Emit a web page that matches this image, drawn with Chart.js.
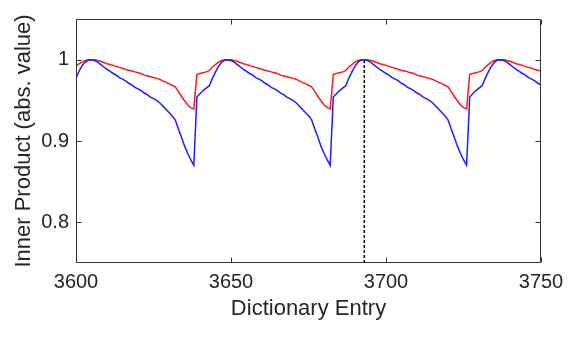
<!DOCTYPE html>
<html>
<head>
<meta charset="utf-8">
<script src="https://cdn.jsdelivr.net/npm/chart.js@4/dist/chart.umd.min.js"></script>
<style>
  html, body { margin: 0; padding: 0; background: #ffffff; }
  #wrap { width: 574px; height: 339px; position: relative; }
</style>
</head>
<body>
<div id="wrap"><canvas id="c" width="574" height="339"></canvas></div>
<script>
// Dictionary entries (x axis)
const entries = [
3600,3601,3602,3603,3604,3605,3606,3607,3608,3609,3610,3611,3612,3613,3614,3615,3616,3617,3618,3619,
3620,3621,3622,3623,3624,3625,3626,3627,3628,3629,3630,3631,3632,3633,3634,3635,3636,3637,3638,3639,
3640,3641,3642,3643,3644,3645,3646,3647,3648,3649,3650,3651,3652,3653,3654,3655,3656,3657,3658,3659,
3660,3661,3662,3663,3664,3665,3666,3667,3668,3669,3670,3671,3672,3673,3674,3675,3676,3677,3678,3679,
3680,3681,3682,3683,3684,3685,3686,3687,3688,3689,3690,3691,3692,3693,3694,3695,3696,3697,3698,3699,
3700,3701,3702,3703,3704,3705,3706,3707,3708,3709,3710,3711,3712,3713,3714,3715,3716,3717,3718,3719,
3720,3721,3722,3723,3724,3725,3726,3727,3728,3729,3730,3731,3732,3733,3734,3735,3736,3737,3738,3739,
3740,3741,3742,3743,3744,3745,3746,3747,3748,3749,3750
];

// Blue series (inner product, abs. value)
const blueValues = [
0.977,0.986,0.993,0.997,0.9995,
1.000,0.999,0.997,0.994,0.991,0.988,0.9855,0.983,0.981,0.978,0.976,0.974,0.971,0.969,0.966,0.964,0.962,0.959,0.957,0.954,0.952,0.950,0.947,0.943,0.939,0.935,0.931,0.926,0.915,0.905,0.894,0.885,0.877,0.870,0.954,0.958,0.962,0.965,0.968,0.977,0.985,0.992,0.997,0.9995,
1.000,0.999,0.997,0.994,0.991,0.988,0.9855,0.983,0.981,0.978,0.976,0.974,0.971,0.969,0.966,0.964,0.962,0.959,0.957,0.954,0.952,0.950,0.947,0.943,0.939,0.935,0.931,0.926,0.915,0.905,0.894,0.885,0.877,0.870,0.954,0.958,0.962,0.965,0.968,0.977,0.985,0.992,0.997,0.9995,
1.000,0.999,0.997,0.994,0.991,0.988,0.9855,0.983,0.981,0.978,0.976,0.974,0.971,0.969,0.966,0.964,0.962,0.959,0.957,0.954,0.952,0.950,0.947,0.943,0.939,0.935,0.931,0.926,0.915,0.905,0.894,0.885,0.877,0.870,0.954,0.958,0.962,0.965,0.968,0.977,0.985,0.992,0.997,0.9995,
1.000,0.999,0.997,0.994,0.991,0.988,0.9855,0.983,0.981,0.978,0.976,0.974,0.971,0.969
];

// Red series (inner product, abs. value)
const redValues = [
0.992,0.995,0.997,0.999,0.9998,
1.000,0.9998,0.999,0.998,0.9965,0.995,0.994,0.993,0.9915,0.9905,0.9895,0.988,0.987,0.986,0.985,0.984,0.983,0.981,0.980,0.979,0.978,0.977,0.976,0.974,0.972,0.9705,0.9685,0.9667,0.961,0.955,0.9495,0.9445,0.941,0.9395,0.982,0.983,0.984,0.985,0.9865,0.991,0.994,0.997,0.999,0.9998,
1.000,0.9998,0.999,0.998,0.9965,0.995,0.994,0.993,0.9915,0.9905,0.9895,0.988,0.987,0.986,0.985,0.984,0.983,0.981,0.980,0.979,0.978,0.977,0.976,0.974,0.972,0.9705,0.9685,0.9667,0.961,0.955,0.9495,0.9445,0.941,0.9395,0.982,0.983,0.984,0.985,0.9865,0.991,0.994,0.997,0.999,0.9998,
1.000,0.9998,0.999,0.998,0.9965,0.995,0.994,0.993,0.9915,0.9905,0.9895,0.988,0.987,0.986,0.985,0.984,0.983,0.981,0.980,0.979,0.978,0.977,0.976,0.974,0.972,0.9705,0.9685,0.9667,0.961,0.955,0.9495,0.9445,0.941,0.9395,0.982,0.983,0.984,0.985,0.9865,0.991,0.994,0.997,0.999,0.9998,
1.000,0.9998,0.999,0.998,0.9965,0.995,0.994,0.993,0.9915,0.9905,0.9895,0.988,0.987,0.986
];

// Marker line (dashed vertical)
const markerEntry = [3693, 3693];
const markerValues = [0.75, 1.0];

// Axis ticks
const xTicks = [3600, 3650, 3700, 3750];
const yTicks = [0.8, 0.9, 1];
const yTickLabels = ['0.8', '0.9', '1'];

const xLabel = 'Dictionary Entry';
const yLabel = 'Inner Product (abs. value)';

const axisColor = '#333333';
const textColor = '#262626';
const FONT = '"Liberation Sans", Arial, Helvetica, sans-serif';

const toPts = (xs, ys) => xs.map((x, i) => ({ x: x, y: ys[i] }));

const framePlugin = {
  id: 'frame',
  afterDatasetsDraw(chart) {
    const ctx = chart.ctx;
    const ca = chart.chartArea;
    const xs = chart.scales.x, ys = chart.scales.y;
    const L = Math.round(ca.left) + 0.5, R = Math.round(ca.right) - 0.5;
    const T = Math.round(ca.top) + 0.5, B = Math.round(ca.bottom) - 0.5;
    ctx.save();
    ctx.strokeStyle = axisColor;
    ctx.lineWidth = 1;
    ctx.beginPath();
    ctx.rect(L, T, R - L, B - T);
    ctx.stroke();
    const tl = 5;
    ctx.beginPath();
    xTicks.forEach(v => {
      const px = Math.round(xs.getPixelForValue(v)) + 0.5;
      ctx.moveTo(px, B); ctx.lineTo(px, B - tl);
      ctx.moveTo(px, T); ctx.lineTo(px, T + tl);
    });
    yTicks.forEach(v => {
      const py = Math.round(ys.getPixelForValue(v)) + 0.5;
      ctx.moveTo(L, py); ctx.lineTo(L + tl, py);
      ctx.moveTo(R, py); ctx.lineTo(R - tl, py);
    });
    ctx.stroke();
    ctx.restore();
  }
};

new Chart(document.getElementById('c'), {
  type: 'line',
  data: {
    datasets: [
      { label: 'blue', data: toPts(entries, blueValues), borderColor: '#1f1fff', borderWidth: 1.5,
        pointRadius: 0, tension: 0, fill: false },
      { label: 'red', data: toPts(entries, redValues), borderColor: '#ff1a1a', borderWidth: 1.5,
        pointRadius: 0, tension: 0, fill: false },
      { label: 'marker', data: toPts(markerEntry, markerValues), borderColor: '#000000', borderWidth: 1.5,
        borderDash: [3, 2], pointRadius: 0, tension: 0, fill: false }
    ]
  },
  options: {
    responsive: false,
    animation: false,
    devicePixelRatio: 1,
    parsing: true,
    layout: { padding: { top: 17, right: 33, left: 0, bottom: 0 } },
    plugins: { legend: { display: false }, tooltip: { enabled: false } },
    scales: {
      x: {
        type: 'linear', min: 3600, max: 3750,
        grid: { display: false, drawTicks: false },
        border: { display: false },
        afterBuildTicks: s => { s.ticks = xTicks.map(v => ({ value: v })); },
        afterFit: s => { s.height = 76; },
        ticks: { color: textColor, font: { family: FONT, size: 20 }, padding: 7, maxRotation: 0,
                 callback: v => String(v) },
        title: { display: true, text: xLabel, color: textColor,
                 font: { family: FONT, size: 22 }, padding: { top: 0, bottom: 17 } }
      },
      y: {
        type: 'linear', min: 0.75, max: 1.05,
        grid: { display: false, drawTicks: false },
        border: { display: false },
        afterBuildTicks: s => { s.ticks = yTicks.map(v => ({ value: v })); },
        afterFit: s => { s.width = 76; },
        ticks: { color: textColor, font: { family: FONT, size: 20 }, padding: 7,
                 callback: v => { const i = yTicks.findIndex(t => Math.abs(t - v) < 1e-9); return i >= 0 ? yTickLabels[i] : ''; } },
        title: { display: true, text: yLabel, color: textColor,
                 font: { family: FONT, size: 22 }, padding: { top: 11, bottom: 0 } }
      }
    }
  },
  plugins: [framePlugin]
});
</script>
</body>
</html>
